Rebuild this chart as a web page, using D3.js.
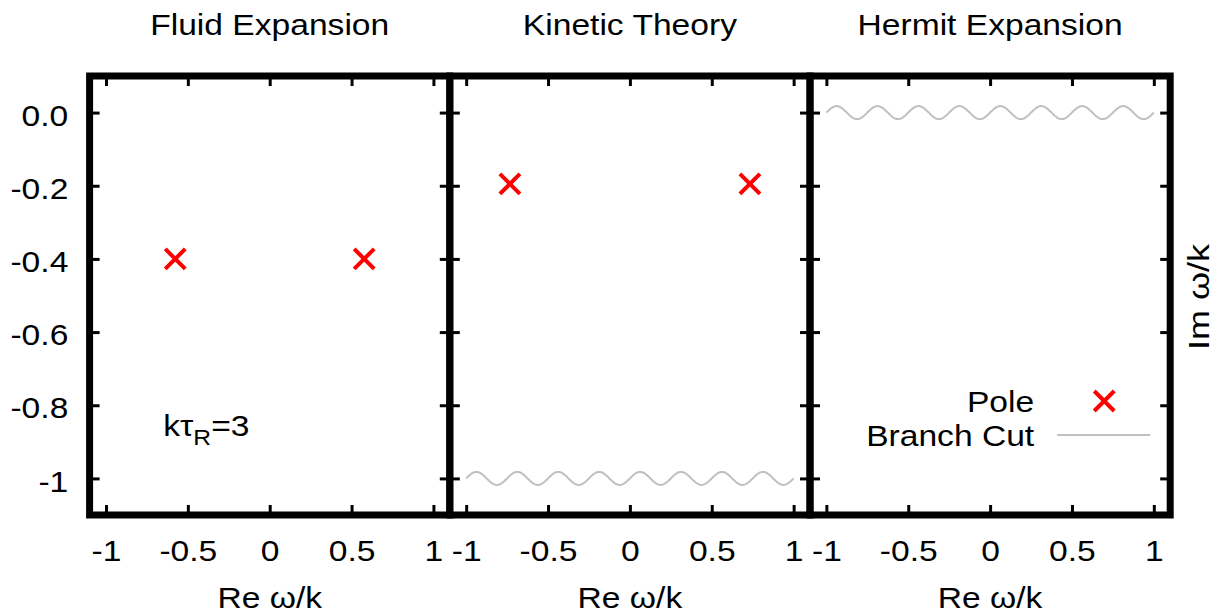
<!DOCTYPE html>
<html>
<head>
<meta charset="utf-8">
<script src="https://cdn.jsdelivr.net/npm/d3@7"></script>
<style>
  html, body { margin: 0; padding: 0; background: #fff; }
  svg { display: block; font-family: 'Liberation Sans', Arial, Helvetica, sans-serif; }
</style>
</head>
<body>
<div id="chart"></div>
<script>
// ---- data ----
const panelTitles = ['Fluid Expansion', 'Kinetic Theory', 'Hermit Expansion'];
const xTickValues = [-1, -0.5, 0, 0.5, 1];
const xTickLabels = ['-1', '-0.5', '0', '0.5', '1'];
const yTickValues = [0, -0.2, -0.4, -0.6, -0.8, -1];
const yTickLabels = ['0.0', '-0.2', '-0.4', '-0.6', '-0.8', '-1'];

// poles (Re ω/k, Im ω/k) per panel
const fluidPoles = [{ re: -0.577, im: -0.4 }, { re: 0.577, im: -0.4 }];
const kineticPoles = [{ re: -0.733, im: -0.195 }, { re: 0.733, im: -0.195 }];
const hermitPoles = [];

// branch cut end points per panel
const fluidCut = [];
const kineticCut = [{ re: -1, im: -1 }, { re: 1, im: -1 }];
const hermitCut = [{ re: -1, im: 0 }, { re: 1, im: 0 }];

const legendLabels = ['Pole', 'Branch Cut'];

// ---- layout / style ----
const WIDTH = 1220;
const HEIGHT = 615;
const PLOT = { LEFT: 89.6, TOP: 76, BOTTOM: 515, PANEL_WIDTH: 360.2 };
const FONT = 30;
const STRETCH = 1.12; // the reference text is a bit wider than Liberation Sans
const TICK = 10;
const POLE_COLOR = '#ff0000';
const CUT_COLOR = '#c0c0c0';
const WAVE = { AMP: 6.5, CYCLES: 8 };

const panels = [
  { title: panelTitles[0], poles: fluidPoles, cut: fluidCut },
  { title: panelTitles[1], poles: kineticPoles, cut: kineticCut },
  { title: panelTitles[2], poles: hermitPoles, cut: hermitCut },
];

const svg = d3.select('#chart').append('svg').attr('width', WIDTH).attr('height', HEIGHT);

const yScale = d3.scaleLinear().domain([-1.1, 0.1]).range([PLOT.BOTTOM, PLOT.TOP]);

const addText = (parent, x, y, str, anchor, stretch = STRETCH) =>
  parent
    .append('text')
    .attr('transform', `translate(${x},${y}) scale(${stretch},1)`)
    .attr('text-anchor', anchor)
    .attr('font-size', FONT)
    .attr('fill', '#000')
    .text(str);

const styleAxis = (g) => {
  g.attr('font-size', FONT).attr('font-family', null);
  g.select('.domain').remove();
  g.selectAll('.tick line').attr('stroke', '#000').attr('stroke-width', 3);
  g.selectAll('.tick text').attr('fill', '#000').attr('transform', `scale(${STRETCH},1)`);
};

const crossPath = (h) => `M${-h},${-h}L${h},${h}M${-h},${h}L${h},${-h}`;

// wavy rendering of a branch cut segment, in pixel space
const wavyPath = (cut, xScale) => {
  const [a, b] = cut;
  const n = 400;
  const pts = d3.range(n + 1).map((k) => {
    const t = k / n;
    return [
      xScale(a.re + t * (b.re - a.re)),
      yScale(a.im + t * (b.im - a.im)) - WAVE.AMP * Math.sin(2 * Math.PI * WAVE.CYCLES * t),
    ];
  });
  return d3.line()(pts);
};

panels.forEach((p, i) => {
  const left = PLOT.LEFT + i * PLOT.PANEL_WIDTH;
  const right = left + PLOT.PANEL_WIDTH;
  const xScale = d3.scaleLinear().domain([-1.1, 1.1]).range([left, right]);
  const g = svg.append('g');

  // bottom axis with labels
  g.append('g')
    .attr('transform', `translate(0,${PLOT.BOTTOM})`)
    .call(
      d3.axisBottom(xScale)
        .tickValues(xTickValues)
        .tickFormat((d, j) => xTickLabels[j])
        .tickSizeInner(-TICK)
        .tickSizeOuter(0)
        .tickPadding(25)
    )
    .call(styleAxis);

  // mirrored top ticks
  g.append('g')
    .attr('transform', `translate(0,${PLOT.TOP})`)
    .call(d3.axisTop(xScale).tickValues(xTickValues).tickFormat('').tickSizeInner(-TICK).tickSizeOuter(0))
    .call(styleAxis);

  // left ticks, labels only on the first panel
  g.append('g')
    .attr('transform', `translate(${left},0)`)
    .call(
      d3.axisLeft(yScale)
        .tickValues(yTickValues)
        .tickFormat((d, j) => (i === 0 ? yTickLabels[j] : ''))
        .tickSizeInner(-TICK)
        .tickSizeOuter(0)
        .tickPadding(19)
    )
    .call(styleAxis)
    .selectAll('.tick text')
    .attr('dy', '0.42em');

  g.append('g')
    .attr('transform', `translate(${right},0)`)
    .call(d3.axisRight(yScale).tickValues(yTickValues).tickFormat('').tickSizeInner(-TICK).tickSizeOuter(0))
    .call(styleAxis);

  // branch cut
  if (p.cut.length) {
    g.append('path')
      .attr('d', wavyPath(p.cut, xScale))
      .attr('fill', 'none')
      .attr('stroke', CUT_COLOR)
      .attr('stroke-width', 2);
  }

  // poles
  g.selectAll('.pole')
    .data(p.poles)
    .join('path')
    .attr('class', 'pole')
    .attr('transform', (d) => `translate(${xScale(d.re)},${yScale(d.im)})`)
    .attr('d', crossPath(10))
    .attr('fill', 'none')
    .attr('stroke', POLE_COLOR)
    .attr('stroke-width', 4);

  // frame
  g.append('rect')
    .attr('x', left)
    .attr('y', PLOT.TOP)
    .attr('width', PLOT.PANEL_WIDTH)
    .attr('height', PLOT.BOTTOM - PLOT.TOP)
    .attr('fill', 'none')
    .attr('stroke', '#000')
    .attr('stroke-width', 7);

  // titles and x label
  addText(svg, (left + right) / 2, 35, p.title, 'middle');
  addText(svg, (left + right) / 2, 608, 'Re ω/k', 'middle');

  if (i === 0) {
    // kτR=3 annotation
    const t = svg
      .append('text')
      .attr('transform', `translate(${xScale(-0.65)},${yScale(-0.885)}) scale(${STRETCH},1)`)
      .attr('font-size', FONT)
      .attr('fill', '#000');
    t.append('tspan').text('kτ');
    t.append('tspan').attr('font-size', 22).attr('dy', 9).text('R');
    t.append('tspan').attr('dy', -9).text('=3');
  }

  if (i === panels.length - 1) {
    // legend
    const textX = right - 136;
    legendLabels.forEach((label, j) => {
      const cy = PLOT.TOP + 325 + j * 34;
      addText(svg, textX, cy + 11, label, 'end');
      if (j === 0) {
        svg.append('path')
          .attr('transform', `translate(${right - 66},${cy})`)
          .attr('d', crossPath(10))
          .attr('fill', 'none')
          .attr('stroke', POLE_COLOR)
          .attr('stroke-width', 4);
      } else {
        svg.append('line')
          .attr('x1', right - 113)
          .attr('x2', right - 20)
          .attr('y1', cy)
          .attr('y2', cy)
          .attr('stroke', CUT_COLOR)
          .attr('stroke-width', 2);
      }
    });
  }
});

// y label on the right
svg
  .append('text')
  .attr('transform', `translate(1209,297) rotate(-90) scale(1.2,1)`)
  .attr('text-anchor', 'middle')
  .attr('font-size', FONT)
  .attr('fill', '#000')
  .text('Im ω/k');
</script>
</body>
</html>
